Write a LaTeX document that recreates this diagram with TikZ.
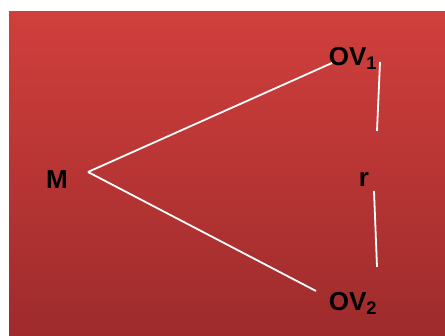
\documentclass[tikz,border=0pt]{standalone}
\usepackage{fontspec}
\setmainfont{Liberation Sans}
\definecolor{bgtop}{RGB}{208,63,60}
\definecolor{bgbot}{RGB}{158,43,44}
\begin{document}
\begin{tikzpicture}[x=1pt,y=1pt,
  lbl/.style={font=\bfseries\fontsize{26}{30}\selectfont, text=black, inner sep=0pt},
  wire/.style={draw=white, line width=1.8pt}]
\useasboundingbox (0,0) rectangle (445,336);
\fill[white] (0,0) rectangle (445,336);
\shade[top color=bgtop, bottom color=bgbot] (9,0) rectangle (445,324);
% labels
\node[lbl] (M) at (57,156) {M};
\node[lbl] (ov1) at (353,278) {OV\textsubscript{1}};
\node[lbl] (ov2) at (353,33) {OV\textsubscript{2}};
\node[lbl] (r) at (364,156) {r};
% line ends
\coordinate (apex) at (88,164);
\coordinate (a1) at (332,273);
\coordinate (a2) at (316,45);
\coordinate (r1a) at (380,274);
\coordinate (r1b) at (377,205);
\coordinate (r2a) at (374,145);
\coordinate (r2b) at (377,69);
\draw[wire] (apex) -- (a1);
\draw[wire] (apex) -- (a2);
\draw[wire] (r1a) -- (r1b);
\draw[wire] (r2a) -- (r2b);
\end{tikzpicture}
\end{document}
